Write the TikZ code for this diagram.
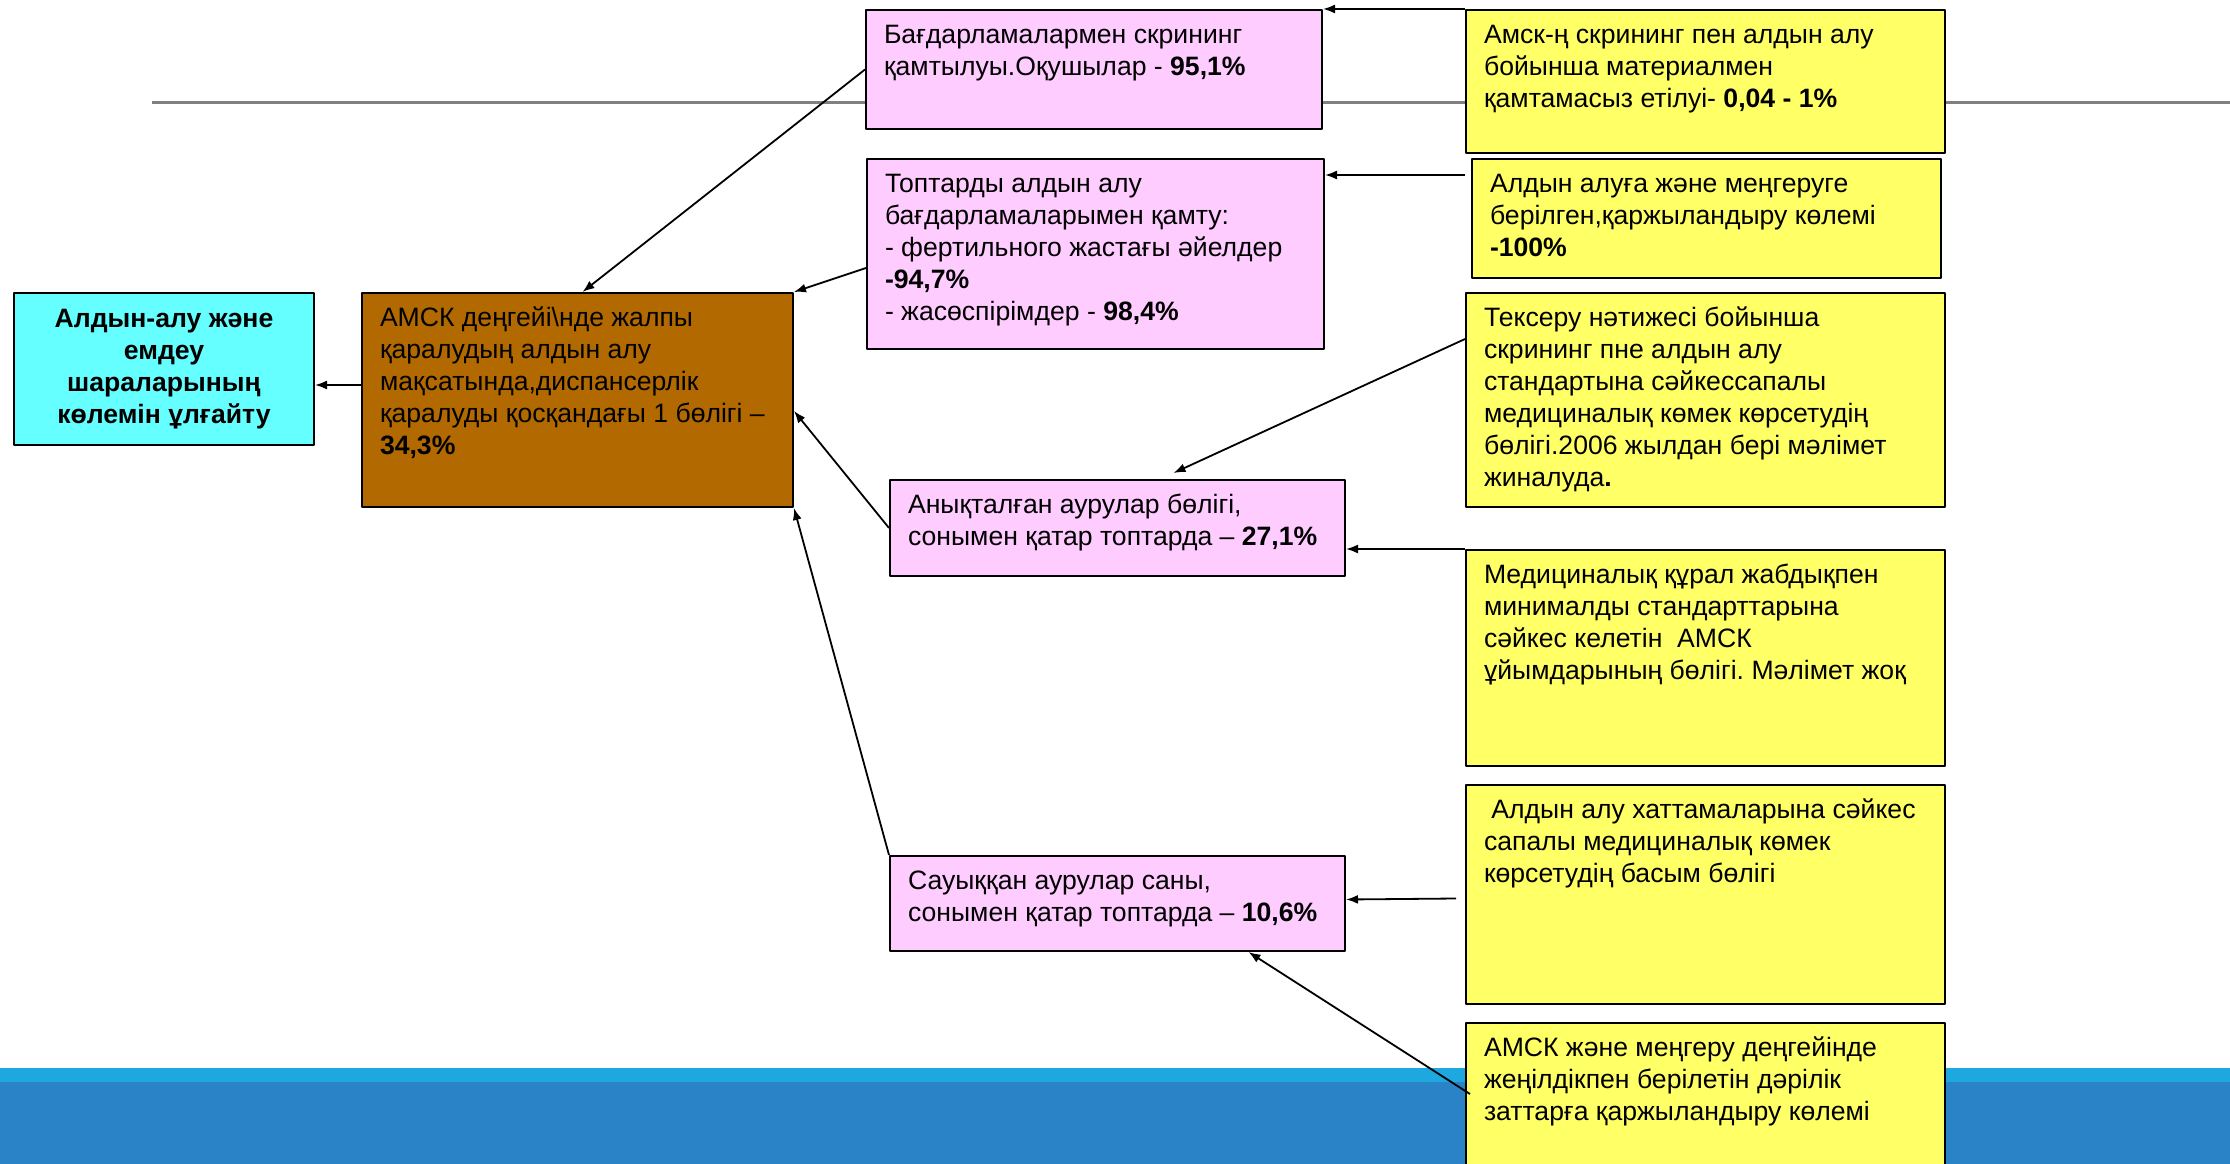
\documentclass[tikz,border=0pt]{standalone}
\usepackage{fontspec}
\setmainfont{Liberation Sans}
\usetikzlibrary{arrows.meta}
\usetikzlibrary{positioning}
\frenchspacing

\definecolor{pinkfill}{RGB}{255,204,255}
\definecolor{yellowfill}{RGB}{255,255,102}
\definecolor{brownfill}{RGB}{178,106,0}
\definecolor{cyanfill}{RGB}{102,255,255}
\definecolor{rulegrey}{RGB}{128,128,128}
\definecolor{bandlight}{RGB}{30,168,224}
\definecolor{banddark}{RGB}{41,131,198}

% box text: width, height, lines
\newcommand{\boxtxt}[3]{\parbox[t][\dimexpr #2pt-22pt\relax][t]{\dimexpr #1pt-36pt\relax}{\raggedright\strut #3}}

\begin{document}
\begin{tikzpicture}[x=1pt,y=-1pt,>={Latex[length=12pt,width=9pt]},line join=bevel,
  every node/.style={font=\fontsize{26.6}{32}\selectfont},
  txtbox/.style={draw,rectangle,line width=2pt,anchor=north west,inner xsep=18pt,inner ysep=11pt},
  pinkbox/.style={txtbox,fill=pinkfill},
  yellowbox/.style={txtbox,fill=yellowfill},
  link/.style={->,line width=1.8pt}]
%%
\clip (0,0) rectangle (2230,1164);
\fill[white] (0,0) rectangle (2230,1164);
\draw[rulegrey,line width=3pt] (152,102) -- (2230,102);
\fill[bandlight] (0,1068) rectangle (2230,1164);
\fill[banddark] (0,1082) rectangle (2230,1164);

\node (goal) at (13,292) [draw,rectangle,line width=2pt,anchor=north west,fill=cyanfill,
  minimum width=300pt,minimum height=152pt,align=center,font=\fontsize{26.6}{32}\selectfont\bfseries]
  {Алдын-алу және\\емдеу\\шараларының\\көлемін ұлғайту};
\node (amsk) at (361,292) [txtbox,fill=brownfill] {\boxtxt{431}{214}{АМСК деңгейі\textbackslash нде жалпы\\қаралудың алдын алу\\мақсатында,диспансерлік\\қаралуды қосқандағы 1 бөлігі –\\\textbf{34,3\%}}};

\node (screen) at (865,9) [pinkbox] {\boxtxt{456}{119}{Бағдарламалармен скрининг\\қамтылуы.Оқушылар - \textbf{95,1\%}}};
\node (groups) at (866,158) [pinkbox] {\boxtxt{457}{190}{Топтарды алдын алу\\бағдарламаларымен қамту:\\- фертильного жастағы әйелдер\\\textbf{-94,7\%}\\- жасөспірімдер - \textbf{98,4\%}}};
\node (found) at (889,479) [pinkbox] {\boxtxt{455}{96}{Анықталған аурулар бөлігі,\\сонымен қатар топтарда – \textbf{27,1\%}}};
\node (cured) at (889,855) [pinkbox] {\boxtxt{455}{95}{Сауыққан аурулар саны,\\сонымен қатар топтарда – \textbf{10,6\%}}};

\node (material) at (1465,9) [yellowbox] {\boxtxt{479}{143}{Амск-ң скрининг пен алдын алу\\бойынша материалмен\\қамтамасыз етілуі- \textbf{0,04 - 1\%}}};
\node (funding) at (1471,158) [yellowbox] {\boxtxt{469}{119}{Алдын алуға және меңгеруге\\берілген,қаржыландыру көлемі\\\textbf{-100\%}}};
\node (standard) at (1465,292) [yellowbox] {\boxtxt{479}{214}{Тексеру нәтижесі бойынша\\скрининг пне алдын алу\\стандартына сәйкессапалы\\медициналық көмек көрсетудің\\бөлігі.2006 жылдан бері мәлімет\\жиналуда\textbf{.}}};
\node (equipment) at (1465,549) [yellowbox] {\boxtxt{479}{216}{Медициналық құрал жабдықпен\\минималды стандарттарына\\сәйкес келетін\ \ АМСК\\ұйымдарының бөлігі. Мәлімет жоқ}};
\node (protocol) at (1465,784) [yellowbox] {\boxtxt{479}{219}{\ Алдын алу хаттамаларына сәйкес\\сапалы медициналық көмек\\көрсетудің басым бөлігі}};
\node (drugs) at (1465,1022) [yellowbox] {\boxtxt{479}{170}{АМСК және меңгеру деңгейінде\\жеңілдікпен берілетін дәрілік\\заттарға қаржыландыру көлемі}};

\draw[link] ([yshift=15pt]amsk.west) -- ([yshift=-16pt]goal.east);
\draw[link] (screen.west) -- ([xshift=5pt]amsk.north);
\draw[link] ([yshift=-14pt]groups.west) -- (amsk.north east);
\draw[link] (found.west) -- ([yshift=-11pt]amsk.east);
\draw[link] (cured.north west) -- (amsk.south east);

\draw[link] (material.north west) -- (screen.north east);
\draw[link] ([xshift=-6pt,yshift=-17pt]funding.north west) -- ([yshift=-17pt]groups.north east);
\draw[link] ([yshift=-47pt]standard.north west) -- ([xshift=56pt,yshift=6pt]found.north);
\draw[link] (equipment.north west) -- (found.east |- equipment.north west);
\draw[link] ([xshift=-9pt,yshift=-4pt]protocol.west) -- ([yshift=4pt]cured.east);
\draw[link] ([xshift=5pt,yshift=-72pt]drugs.north west) -- ([xshift=131pt]cured.south);
%
\end{tikzpicture}
\end{document}
